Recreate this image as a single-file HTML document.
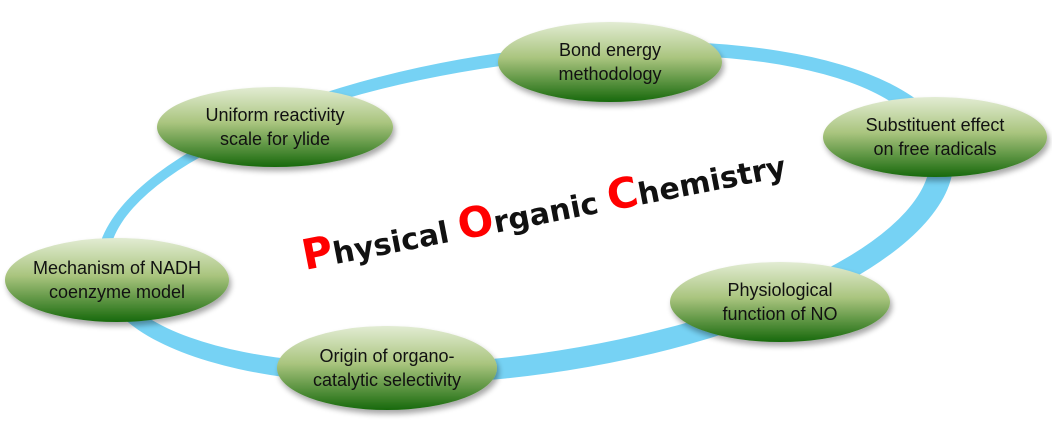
<!DOCTYPE html>
<html><head><meta charset="utf-8"><style>
html,body{margin:0;padding:0;background:#fff;}
svg{display:block;}
.t{font-family:"Liberation Sans",sans-serif;font-size:18px;fill:#111;text-anchor:middle;}
.ti{font-family:"DejaVu Sans","Liberation Sans",sans-serif;fill:#111;}
</style></head><body>
<svg width="1052" height="426" viewBox="0 0 1052 426" xmlns="http://www.w3.org/2000/svg">
<defs>
<linearGradient id="g" x1="0" y1="0" x2="0" y2="1">
<stop offset="0" stop-color="#e2ecd3"/>
<stop offset="0.45" stop-color="#a9c47e"/>
<stop offset="1" stop-color="#17690c"/>
</linearGradient>
<filter id="sh" x="-20%" y="-20%" width="140%" height="150%">
<feGaussianBlur in="SourceAlpha" stdDeviation="3"/>
<feOffset dx="2" dy="4"/>
<feComponentTransfer><feFuncA type="linear" slope="0.35"/></feComponentTransfer>
<feMerge><feMergeNode/><feMergeNode in="SourceGraphic"/></feMerge>
</filter>
</defs>
<g transform="rotate(-8 525 213)">
<ellipse cx="525" cy="213" rx="432" ry="162" fill="#76d2f4"/>
<ellipse cx="520" cy="209" rx="414" ry="145" fill="#fff"/>
</g>
<g filter="url(#sh)" fill="url(#g)">
<ellipse cx="610" cy="62" rx="112" ry="40"/>
<ellipse cx="275" cy="127" rx="118" ry="40"/>
<ellipse cx="935" cy="137" rx="112" ry="40"/>
<ellipse cx="117" cy="280" rx="112" ry="42"/>
<ellipse cx="780" cy="302" rx="110" ry="40"/>
<ellipse cx="387" cy="368" rx="110" ry="42"/>
</g>
<text class="t" x="610" y="56">Bond energy</text><text class="t" x="610" y="80">methodology</text>
<text class="t" x="275" y="121">Uniform reactivity</text><text class="t" x="275" y="145">scale for ylide</text>
<text class="t" x="935" y="131">Substituent effect</text><text class="t" x="935" y="155">on free radicals</text>
<text class="t" x="117" y="274">Mechanism of NADH</text><text class="t" x="117" y="298">coenzyme model</text>
<text class="t" x="780" y="296">Physiological</text><text class="t" x="780" y="320">function of NO</text>
<text class="t" x="387" y="362">Origin of organo-</text><text class="t" x="387" y="386">catalytic selectivity</text>
<g transform="translate(305,270) rotate(-11)">
<text class="ti" x="0" y="0" font-size="30" font-weight="bold"><tspan fill="#f00" font-size="42">P</tspan>hysical <tspan fill="#f00" font-size="42">O</tspan>rganic <tspan fill="#f00" font-size="42">C</tspan>hemistry</text>
</g>
</svg>
</body></html>
